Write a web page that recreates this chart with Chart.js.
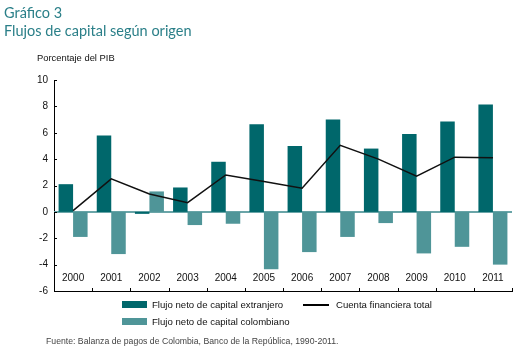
<!DOCTYPE html>
<html>
<head>
<meta charset="utf-8">
<script src="https://cdn.jsdelivr.net/npm/chart.js@4.4.0/dist/chart.umd.min.js"></script>
<style>
  body { margin: 0; background: #fff; font-family: "Liberation Sans", Arial, sans-serif; }
  #wrap { position: relative; width: 520px; height: 351px; overflow: hidden; }
  #wrap canvas { position: absolute; left: 0; top: 0; }
  .t { position: absolute; white-space: nowrap; }
  .title { left: 4px; color: #2a7f88; font-family: Lato, sans-serif; font-size: 14.5px; }
  .leg { font-size: 9.6px; color: #111; }
  .sw { position: absolute; width: 25px; height: 7px; }
</style>
</head>
<body>
<div id="wrap">
  <canvas id="chart" width="520" height="351"></canvas>
  <div class="t title" style="top:4px">Gráfico 3</div>
  <div class="t title" style="top:22px">Flujos de capital según origen</div>
  <div class="t" style="left:37px; top:52px; font-size:9.4px; color:#111">Porcentaje del PIB</div>

  <div class="sw" style="left:122px; top:301px; background:#00676b"></div>
  <div class="t leg" style="left:152px; top:299px">Flujo neto de capital extranjero</div>
  <div style="position:absolute; left:303px; top:304px; width:26px; height:2px; background:#000"></div>
  <div class="t leg" style="left:336px; top:299px">Cuenta financiera total</div>
  <div class="sw" style="left:122px; top:318px; background:#4f9598"></div>
  <div class="t leg" style="left:152px; top:316px">Flujo neto de capital colombiano</div>

  <div class="t" style="left:46px; top:336px; font-size:8.7px; color:#444">Fuente: Balanza de pagos de Colombia, Banco de la República, 1990-2011.</div>
</div>
<script>
const years = ['2000', '2001', '2002', '2003', '2004', '2005', '2006', '2007', '2008', '2009', '2010', '2011'];
const foreignFlow = [2.1, 5.8, -0.15, 1.85, 3.8, 6.65, 5.0, 7.0, 4.8, 5.9, 6.85, 8.15];
const colombianFlow = [-1.9, -3.2, 1.55, -1.0, -0.9, -4.35, -3.05, -1.9, -0.85, -3.15, -2.65, -4.0];
const financialAccount = [0.1, 2.5, 1.35, 0.7, 2.8, 2.3, 1.8, 5.05, 4.0, 2.7, 4.15, 4.1];
const yTicks = [-6, -4, -2, 0, 2, 4, 6, 8, 10];

// zero line, inner tick marks and year labels inside the plot
const extras = {
  id: 'extras',
  beforeDatasetsDraw(chart) {
    const { ctx, chartArea, scales: { y } } = chart;
    const y0 = y.getPixelForValue(0);
    ctx.save();
    ctx.strokeStyle = '#6aa5a8';
    ctx.lineWidth = 2;
    ctx.beginPath();
    ctx.moveTo(chartArea.left, y0);
    ctx.lineTo(chartArea.right, y0);
    ctx.stroke();
    ctx.restore();
  },
  afterDraw(chart) {
    const { ctx, chartArea, scales: { x, y } } = chart;
    ctx.save();
    ctx.strokeStyle = '#000';
    ctx.lineWidth = 1;
    ctx.beginPath();
    yTicks.forEach(v => {
      const py = Math.round(y.getPixelForValue(v)) + 0.5;
      ctx.moveTo(chartArea.left, py);
      ctx.lineTo(chartArea.left + 3, py);
    });
    const step = (chartArea.right - chartArea.left) / years.length;
    for (let i = 1; i <= years.length; i++) {
      const px = Math.round(chartArea.left + step * i) + 0.5;
      ctx.moveTo(px, chartArea.bottom);
      ctx.lineTo(px, chartArea.bottom - 3);
    }
    ctx.stroke();
    ctx.fillStyle = '#111';
    ctx.font = '10px "Liberation Sans", Arial, sans-serif';
    ctx.textAlign = 'center';
    ctx.textBaseline = 'middle';
    years.forEach((yr, i) => {
      ctx.fillText(yr, x.getPixelForValue(i), y.getPixelForValue(-5.05));
    });
    ctx.restore();
  }
};

new Chart(document.getElementById('chart'), {
  data: {
    labels: years,
    datasets: [
      {
        type: 'line',
        label: 'Cuenta financiera total',
        data: financialAccount,
        borderColor: '#111',
        borderWidth: 1.5,
        pointRadius: 0,
        tension: 0,
        order: 0
      },
      {
        type: 'bar',
        label: 'Flujo neto de capital extranjero',
        data: foreignFlow,
        backgroundColor: '#00676b',
        categoryPercentage: 0.76,
        barPercentage: 1.0,
        order: 1
      },
      {
        type: 'bar',
        label: 'Flujo neto de capital colombiano',
        data: colombianFlow,
        backgroundColor: '#4f9598',
        categoryPercentage: 0.76,
        barPercentage: 1.0,
        order: 1
      }
    ]
  },
  options: {
    responsive: false,
    animation: false,
    layout: { padding: { top: 80, bottom: 52, left: 0, right: 8 } },
    plugins: { legend: { display: false }, tooltip: { enabled: false } },
    scales: {
      x: {
        offset: true,
        grid: { display: false },
        border: { display: true, color: '#000', width: 1 },
        ticks: { display: false }
      },
      y: {
        min: -6,
        max: 10,
        afterFit(scale) { scale.width = 54; },
        afterBuildTicks(scale) { scale.ticks = yTicks.map(v => ({ value: v })); },
        grid: { display: false, drawTicks: false },
        border: { display: true, color: '#000', width: 1 },
        ticks: {
          color: '#111',
          padding: 6,
          font: { family: '"Liberation Sans", Arial, sans-serif', size: 10 }
        }
      }
    }
  },
  plugins: [extras]
});
</script>
</body>
</html>
